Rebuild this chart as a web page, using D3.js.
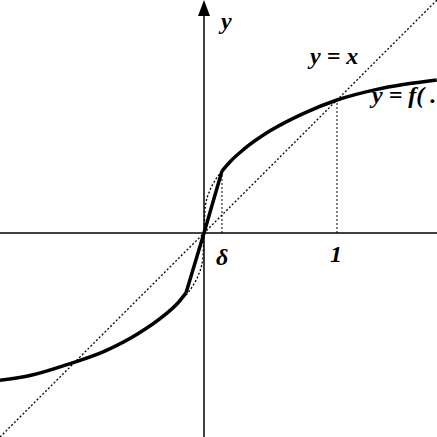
<!DOCTYPE html><html><head><meta charset="utf-8">
<script src="https://cdn.jsdelivr.net/npm/d3@7"></script>
<style>body{margin:0;background:#fff}text{font-family:"Liberation Serif",serif;font-weight:bold;font-style:italic;font-size:24px}</style>
</head><body><svg id="c" width="437" height="437"></svg><script>
const rightX=[0.135,0.2,0.3,0.5,0.75,1,1.3,1.75];
const rightY=[0.466,0.54,0.63,0.77,0.9,1.0,1.08,1.15];
const leftX=[-1.55,-1.3,-1,-0.75,-0.5,-0.3,-0.2,-0.135];
const leftY=[-1.11,-1.07,-0.98,-0.89,-0.76,-0.62,-0.53,-0.45];
const nearX=[0,0.01,0.04,0.08,0.135];
const nearY=[0,0.2,0.31,0.39,0.466];
const delta=0.135;
const svg=d3.select("#c");
const x=d3.scaleLinear().domain([-1.534,1.752]).range([0,437]);
const y=d3.scaleLinear().domain([-1.534,1.752]).range([437,0]);
const line=d3.line().x(d=>x(d[0])).y(d=>y(d[1]));
const curve=d3.line().x(d=>x(d[0])).y(d=>y(d[1])).curve(d3.curveMonotoneX);
svg.append("line").attr("x1",0).attr("x2",437).attr("y1",y(0)).attr("y2",y(0)).attr("stroke","#000").attr("stroke-width",1.5);
svg.append("line").attr("x1",x(0)).attr("x2",x(0)).attr("y1",12).attr("y2",437).attr("stroke","#000").attr("stroke-width",1.5);
svg.append("path").attr("d",`M${x(0)-6},16L${x(0)},0L${x(0)+6},16Z`).attr("fill","#000");
svg.append("path").attr("d",line([[-1.534,-1.534],[1.752,1.752]])).attr("stroke","#000").attr("stroke-width",1.3).attr("stroke-dasharray","2,2").attr("fill","none");
[[delta,rightY[0]],[1,1]].forEach(p=>svg.append("path").attr("d",line([[p[0],0],p])).attr("stroke","#000").attr("stroke-dasharray","2,2").attr("fill","none"));
const near=nearX.map((v,i)=>[v,nearY[i]]);
svg.append("path").attr("d",curve(near)).attr("stroke","#000").attr("stroke-width",1.3).attr("stroke-dasharray","2,2").attr("fill","none");
svg.append("path").attr("d",curve(near.map(d=>[-d[0],-d[1]]).reverse())).attr("stroke","#000").attr("stroke-width",1.3).attr("stroke-dasharray","2,2").attr("fill","none");
const R=rightX.map((v,i)=>[v,rightY[i]]), L=leftX.map((v,i)=>[v,leftY[i]]);
const sm=d3.line().x(d=>x(d[0])).y(d=>y(d[1])).curve(d3.curveBasis);
svg.append("path").attr("d",curve(R)).attr("stroke","#000").attr("stroke-width",3.5).attr("fill","none");
svg.append("path").attr("d",curve(L)).attr("stroke","#000").attr("stroke-width",3.5).attr("fill","none");
svg.append("path").attr("d",line([L[L.length-1],[0,0],R[0]])).attr("stroke","#000").attr("stroke-width",3.5).attr("fill","none").attr("stroke-linejoin","round");
svg.append("text").attr("x",221).attr("y",29).text("y");
svg.append("text").attr("x",310).attr("y",64).text("y = x");
svg.append("text").attr("x",372).attr("y",103).text("y = f( .");
svg.append("text").attr("x",216).attr("y",265).text("δ");
svg.append("text").attr("x",330).attr("y",262).text("1");
</script></body></html>
